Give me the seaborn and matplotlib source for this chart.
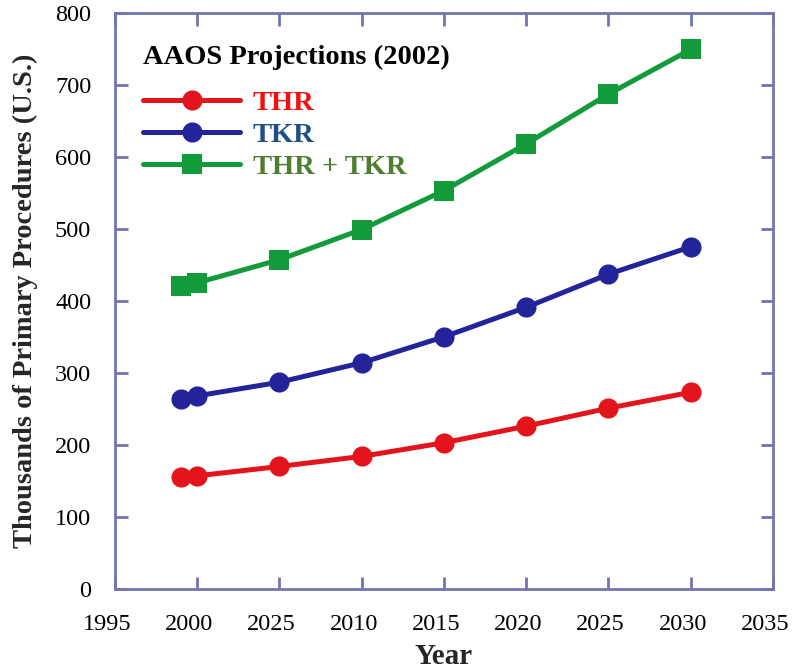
import pandas as pd
import seaborn as sns
import matplotlib.pyplot as plt
from matplotlib.transforms import ScaledTranslation

# 数据
years = [1999, 2000, 2005, 2010, 2015, 2020, 2025, 2030]
thr = [156, 157, 170, 184, 203, 226, 251, 273]
tkr = [264, 268, 287, 314, 350, 391, 437, 475]
thr_tkr = [420, 425, 457, 499, 553, 618, 687, 749]

series_names = ['THR', 'TKR', 'THR + TKR']
xtick_vals = [1995, 2000, 2005, 2010, 2015, 2020, 2025, 2030, 2035]
xtick_labels = ['1995', '2000', '2025', '2010', '2015', '2020', '2025', '2030', '2035']
ytick_vals = [0, 100, 200, 300, 400, 500, 600, 700, 800]

line_colors = {'THR': '#e3141c', 'TKR': '#23239a', 'THR + TKR': '#139a3a'}
text_colors = {'THR': '#f01010', 'TKR': '#1f4f86', 'THR + TKR': '#4d7f2e'}
marker_map = {'THR': 'o', 'TKR': 'o', 'THR + TKR': 's'}

df = pd.DataFrame({
    'Year': years * 3,
    'Value': thr + tkr + thr_tkr,
    'Series': [s for s in series_names for _ in years],
})

sns.set_theme(style="ticks")
plt.rcParams['font.family'] = ['Liberation Serif', 'DejaVu Serif']
spine_color = '#7474b4'

fig = plt.figure(figsize=(7.92, 6.70), dpi=100)
ax = fig.add_axes([0.145, 0.121, 0.831, 0.860])

sns.lineplot(
    data=df, x='Year', y='Value', hue='Series', style='Series',
    palette=line_colors, markers=marker_map, dashes=False,
    linewidth=3.6, markersize=14.5, markeredgewidth=0, ax=ax,
)

ax.set_xlim(1995, 2035)
ax.set_ylim(0, 800)
ax.set_xticks(xtick_vals)
ax.set_xticklabels(xtick_labels)
ax.set_yticks(ytick_vals)

for sp in ax.spines.values():
    sp.set_color(spine_color)
    sp.set_linewidth(2)
ax.tick_params(direction='in', length=9, width=2, color=spine_color,
               top=True, right=True, labelsize=17.5, labelcolor='black')
ax.tick_params(axis='x', pad=18)
ax.tick_params(axis='y', pad=17)

# x 刻度文字略微左移（与原图一致）
shift = ScaledTranslation(-8 / 100, 0, fig.dpi_scale_trans)
for lbl in ax.get_xticklabels():
    lbl.set_transform(lbl.get_transform() + shift)

ax.set_xlabel('Year', fontsize=21, fontweight='bold', labelpad=6)
ax.set_ylabel('Thousands of Primary Procedures (U.S.)', fontsize=20.5,
              fontweight='bold', labelpad=12)

# 图例
ax.text(0.043, 0.945, 'AAOS Projections (2002)', transform=ax.transAxes,
        fontsize=20.5, fontweight='bold', ha='left', va='top', color='black')
handles, labels = ax.get_legend_handles_labels()
leg = ax.legend(handles, labels, loc='upper left', bbox_to_anchor=(0.043, 0.866),
                borderaxespad=0, borderpad=0, frameon=False,
                fontsize=20.5, handlelength=3.4, labelspacing=0.22,
                handletextpad=0.45)
for t in leg.get_texts():
    t.set_color(text_colors[t.get_text()])
    t.set_fontweight('bold')

plt.savefig('out.png', dpi=100)
